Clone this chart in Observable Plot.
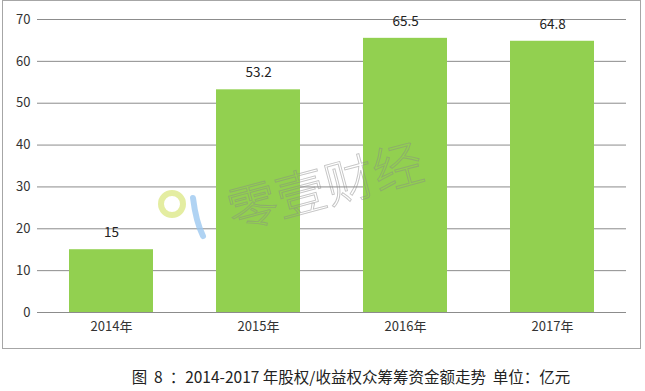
<!DOCTYPE html>
<html><head><meta charset="utf-8">
<script src="https://cdn.jsdelivr.net/npm/d3@7"></script>
<script src="https://cdn.jsdelivr.net/npm/@observablehq/plot@0.6"></script>
<style>
body{margin:0;background:#fff;font-family:"Noto Sans CJK SC","Noto Sans",sans-serif;}
#wrap{position:relative;width:645px;height:391px;}
#frame{position:absolute;left:2px;top:0px;width:637px;height:347px;border:1px solid #a6a6a6;}
#chart{position:absolute;left:0;top:0;}
#wm{position:absolute;left:0;top:0;pointer-events:none;}
#caption{position:absolute;left:0;top:365px;width:702px;text-align:center;font-size:15.5px;color:#222;white-space:pre;}
</style></head>
<body>
<div id="wrap">
<div id="frame"></div>
<div id="chart"></div>
<svg id="wm" width="645" height="391">
  <circle cx="172" cy="204" r="11" fill="none" stroke="#dde98a" stroke-width="6" opacity="0.8"/>
  <path d="M193,198 Q196,222 203,236" fill="none" stroke="#9cc8f0" stroke-width="6" stroke-linecap="round" opacity="0.8"/>
  <text x="326" y="205" text-anchor="middle" font-size="50" font-weight="300" fill="none" stroke="#8a8a8a" stroke-width="0.9" opacity="0.5" transform="rotate(-15 326 190)" font-family="Noto Sans CJK SC">零壹财经</text>
</svg>
<div id="caption">图  8  ：2014-2017 年股权/收益权众筹筹资金额走势  单位：亿元</div>
</div>
<script>
const years = ["2014年","2015年","2016年","2017年"];
const amounts = [15, 53.2, 65.5, 64.8];
const yTicks = [0,10,20,30,40,50,60,70];
const data = years.map((y,i)=>({year:y, value:amounts[i]}));

const chart = Plot.plot({
  width: 645,
  height: 350,
  marginLeft: 37,
  marginRight: 19,
  marginTop: 19,
  marginBottom: 38,
  style: {fontFamily: "'Noto Sans CJK SC','Noto Sans',sans-serif", fontSize: "13px", color: "#333", background: "transparent"},
  x: {domain: years, paddingInner: 0.43, paddingOuter: 0.215, label: null, tickSize: 0, tickPadding: 9},
  y: {domain: [0,70], ticks: yTicks, label: null, tickSize: 0, tickPadding: 7},
  marks: [
    Plot.gridY(yTicks, {stroke: "#8c8c8c", strokeOpacity: 1, strokeWidth: 1}),
    Plot.barY(data, {x: "year", y: "value", fill: "#92d050"}),
    Plot.text(data, {x: "year", y: "value", text: d => String(d.value), dy: -17, fontSize: 13.5, fill: "#222"}),
    Plot.axisX({tickSize: 0, tickPadding: 9, fontSize: 13}),
    Plot.axisY(yTicks, {tickSize: 0, tickPadding: 7, fontSize: 13})
  ]
});
document.getElementById("chart").appendChild(chart);
</script>
</body></html>
